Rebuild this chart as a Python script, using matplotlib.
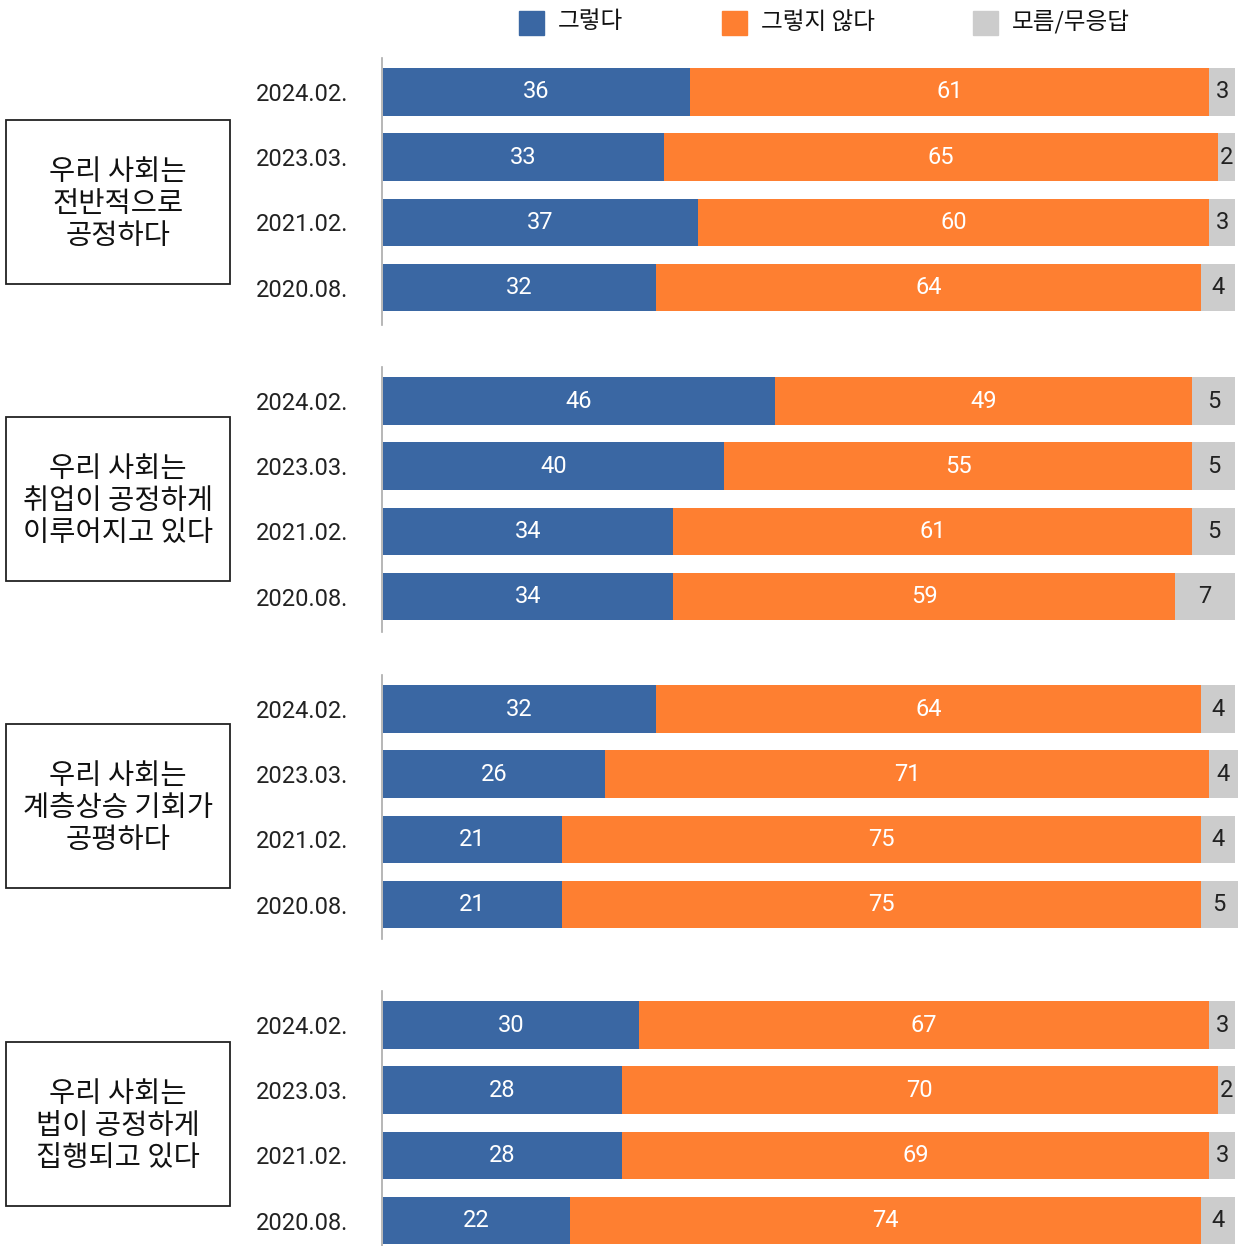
import matplotlib.pyplot as plt
from matplotlib.patches import Rectangle

plt.rcParams['font.family'] = ['Roboto', 'Noto Sans CJK KR', 'DejaVu Sans']

# data
dates = ['2024.02.', '2023.03.', '2021.02.', '2020.08.']
questions = ['우리 사회는\n전반적으로\n공정하다',
             '우리 사회는\n취업이 공정하게\n이루어지고 있다',
             '우리 사회는\n계층상승 기회가\n공평하다',
             '우리 사회는\n법이 공정하게\n집행되고 있다']
yes_vals = [[36, 33, 37, 32], [46, 40, 34, 34], [32, 26, 21, 21], [30, 28, 28, 22]]
no_vals = [[61, 65, 60, 64], [49, 55, 61, 59], [64, 71, 75, 75], [67, 70, 69, 74]]
dk_vals = [[3, 2, 3, 4], [5, 5, 5, 7], [4, 4, 4, 5], [3, 2, 3, 4]]
series_names = ['그렇다', '그렇지 않다', '모름/무응답']
colors = ['#3a67a3', '#fe7f31', '#cccccc']
text_colors = ['white', 'white', '#222222']

W, H = 1247, 1246
fig = plt.figure(figsize=(W / 100, H / 100), dpi=100)

# pixel layout of each group: axes top, axes bottom, first bar center
groups_px = [(58, 325, 92), (367, 632, 401), (675, 939, 709), (991, 1246, 1025)]
boxes_px = [(120, 284), (417, 581), (724, 888), (1042, 1206)]
step = 65.2
xmax = 100.3
x0 = 383
x1 = x0 + 852 * xmax / 100

for g in range(4):
    top, bot, first = groups_px[g]
    ax = fig.add_axes([x0 / W, 1 - bot / H, (x1 - x0) / W, (bot - top) / H])
    ypos = range(len(dates))
    left = [0] * 4
    for s, vals in enumerate([yes_vals[g], no_vals[g], dk_vals[g]]):
        bars = ax.barh(ypos, vals, left=left, height=0.73, color=colors[s])
        for b, v in zip(bars, vals):
            xl = b.get_x()
            xr = min(xl + b.get_width(), xmax)
            ax.text((xl + xr) / 2, b.get_y() + b.get_height() / 2, str(v),
                    ha='center', va='center', color=text_colors[s], fontsize=17)
        left = [l + v for l, v in zip(left, vals)]
    ax.set_xlim(0, xmax)
    ax.set_ylim(3 + (bot - (first + 3 * step)) / step, -(first - top) / step)
    ax.set_yticks(list(ypos))
    ax.set_yticklabels(dates)
    ax.tick_params(axis='y', length=0, pad=24, labelsize=17, labelcolor='#222222')
    ax.set_xticks([])
    for sp in ['top', 'right', 'bottom']:
        ax.spines[sp].set_visible(False)
    ax.spines['left'].set_color('#aaaaaa')
    ax.spines['left'].set_linewidth(1.2)
    ax.spines['left'].set_position(('outward', 1))

    # question box
    bt, bb = boxes_px[g]
    fig.patches.append(Rectangle((6 / W, 1 - bb / H), 224 / W, (bb - bt) / H,
                                 transform=fig.transFigure, fill=False,
                                 edgecolor='#222222', linewidth=1.3))
    fig.text(118 / W, 1 - ((bt + bb) / 2 + 2) / H, questions[g], ha='center', va='center',
             fontsize=20.5, family='Noto Sans CJK KR', linespacing=1.09, color='#111111')

# legend
leg_x = [519, 722, 973]
for i in range(3):
    fig.patches.append(Rectangle((leg_x[i] / W, 1 - 35 / H), 25 / W, 24 / H,
                                 transform=fig.transFigure, color=colors[i]))
    fig.text((leg_x[i] + 39) / W, 1 - 22 / H, series_names[i], ha='left', va='center',
             fontsize=17, family='Noto Sans CJK KR', color='#111111')

fig.savefig('out.png', dpi=100)
